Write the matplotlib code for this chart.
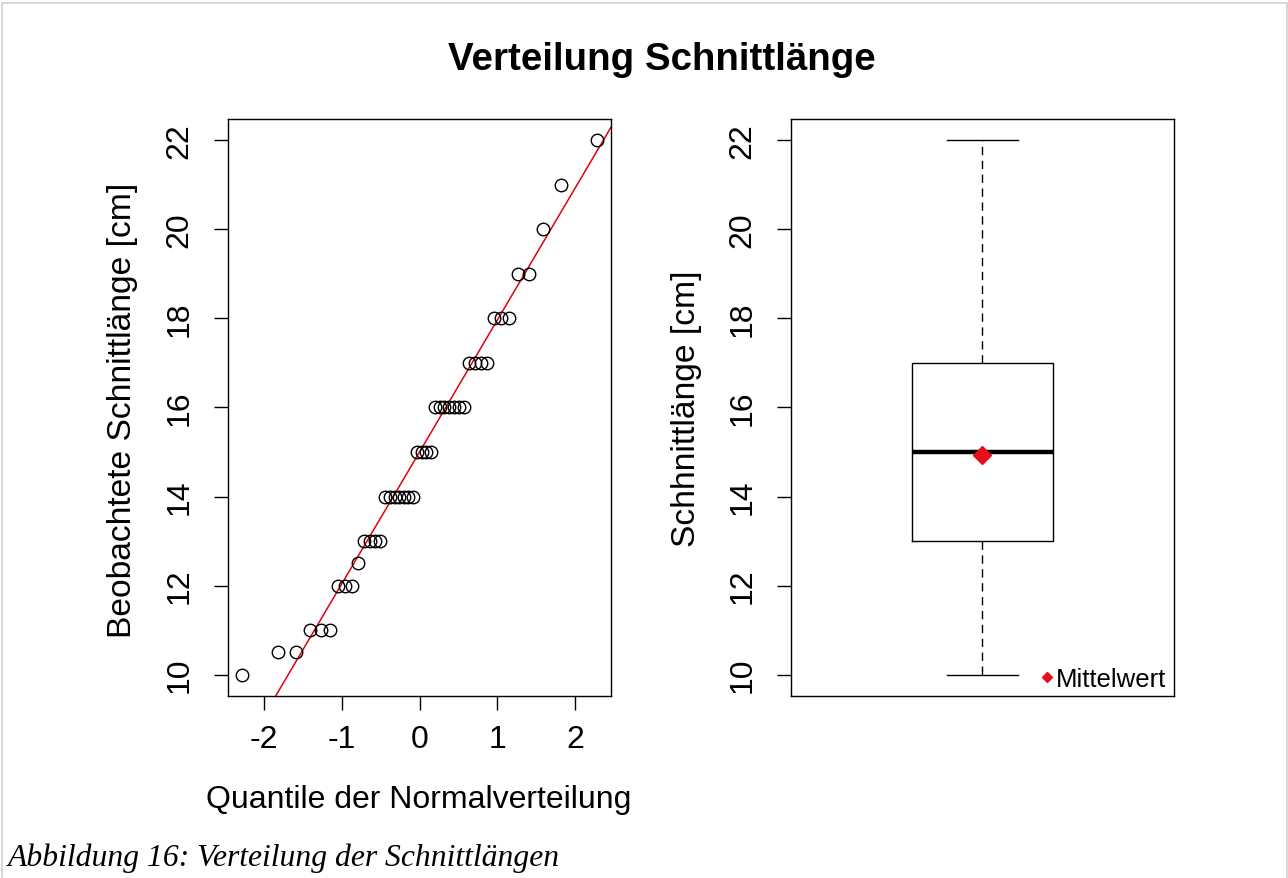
import numpy as np
import matplotlib.pyplot as plt
from matplotlib.lines import Line2D
from matplotlib.patches import Rectangle
from statistics import NormalDist

# beobachtete Schnittlaengen in cm (44 Werte)
schnittlaenge = [10, 10.5, 10.5, 11, 11, 11, 12, 12, 12, 12.5,
                 13, 13, 13, 13,
                 14, 14, 14, 14, 14, 14, 14,
                 15, 15, 15, 15,
                 16, 16, 16, 16, 16, 16, 16,
                 17, 17, 17, 17,
                 18, 18, 18, 19, 19, 20, 21, 22]
y_ticks = [10, 12, 14, 16, 18, 20, 22]
x_ticks = [-2, -1, 0, 1, 2]

plt.rcParams['font.family'] = ['Liberation Sans', 'DejaVu Sans']

W, H = 1288, 879
fig = plt.figure(figsize=(W / 100, H / 100), dpi=100)

def fx(px):
    return px / W

def fy(py):
    return 1 - py / H

# Rahmen der Dokumentseite
fig.patches.append(Rectangle((fx(2), fy(884)), fx(1285), 880 / H, transform=fig.transFigure,
                             fill=False, edgecolor='#d0d0d0', lw=1.2))

fs = 23
ax1 = fig.add_axes([fx(228), fy(697), fx(383), 577 / H])
ax2 = fig.add_axes([fx(791), fy(697), fx(383), 577 / H])

# --- QQ-Plot
y = np.sort(np.array(schnittlaenge))
n = len(y)
nd = NormalDist()
q = np.array([nd.inv_cdf((i - 0.5) / n) for i in range(1, n + 1)])
ax1.plot(q, y, 'o', mfc='none', mec='black', ms=9, mew=1.0, zorder=3)

# qqline durch die Quartile
y25, y75 = np.percentile(y, [25, 75])
x25, x75 = nd.inv_cdf(0.25), nd.inv_cdf(0.75)
slope = (y75 - y25) / (x75 - x25)
icpt = y25 - slope * x25
ax1.axline((0, icpt), slope=slope, color='#e0000f', lw=1.1, zorder=2)

ax1.set_xlim(q.min() - 0.04 * (q.max() - q.min()), q.max() + 0.04 * (q.max() - q.min()))
ax1.set_ylim(9.52, 22.48)
ax1.set_xticks(x_ticks)
ax1.set_xticklabels([str(t) for t in x_ticks])

# --- Boxplot
ax2.boxplot([y], positions=[1], widths=0.368, whis=1.5, showmeans=True,
            capwidths=0.185,
            boxprops=dict(color='black', lw=1.0),
            medianprops=dict(color='black', lw=3.2),
            whiskerprops=dict(color='black', lw=1.0, linestyle=(0, (6, 4))),
            capprops=dict(color='black', lw=1.0),
            meanprops=dict(marker='D', markerfacecolor='#e3101c', markeredgecolor='#e3101c', markersize=9),
            flierprops=dict(marker='o', mfc='none', mec='black'))
ax2.set_xlim(0.5, 1.5)
ax2.set_ylim(9.52, 22.48)
ax2.set_xticks([])

handle = Line2D([], [], marker='D', color='#e3101c', linestyle='none', markersize=5)
ax2.legend([handle], ['Mittelwert'], loc='lower right', frameon=False, fontsize=18.5,
           handletextpad=0.0, handlelength=0.7, borderaxespad=0.2, borderpad=0.3,
           bbox_to_anchor=(1 + 5 / 383, -8 / 577))

for ax in (ax1, ax2):
    ax.set_yticks(y_ticks)
    ax.set_yticklabels([str(t) for t in y_ticks], rotation=90, va='center')
    ax.tick_params(axis='both', labelsize=fs, length=10, width=1.0, direction='out')
    ax.tick_params(axis='y', pad=14)
    ax.tick_params(axis='x', pad=10)
    for s in ax.spines.values():
        s.set_linewidth(1.0)

fig.text(0.514, fy(60), 'Verteilung Schnittlänge', ha='center', va='center',
         fontsize=27.7, fontweight='bold')
fig.text(fx(419), fy(800), 'Quantile der Normalverteilung', ha='center', va='center', fontsize=fs)
fig.text(fx(123), fy(410), 'Beobachtete Schnittlänge [cm]', ha='center', va='center',
         rotation=90, fontsize=24.2)
fig.text(fx(687), fy(409), 'Schhnittlänge [cm]', ha='center', va='center',
         rotation=90, fontsize=24.2)

fig.text(fx(8), fy(866), 'Abbildung 16: Verteilung der Schnittlängen', ha='left', va='baseline',
         fontsize=22.8, style='italic', family=['Liberation Serif', 'DejaVu Serif'])

fig.savefig('out.png', dpi=100)
